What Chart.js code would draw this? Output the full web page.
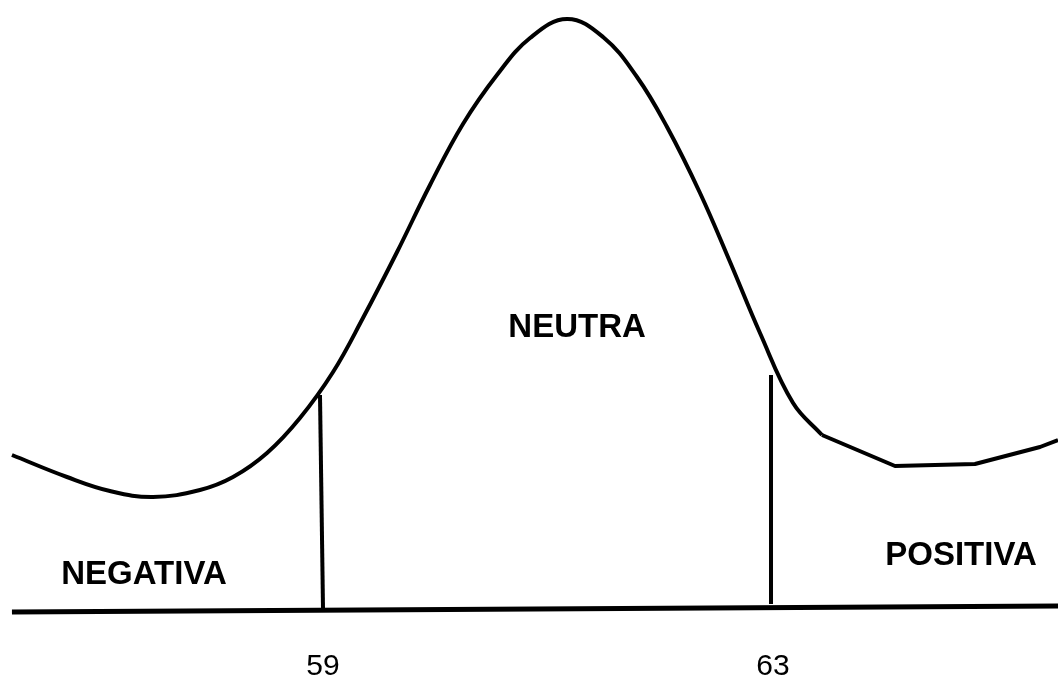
<!DOCTYPE html>
<html>
<head>
<meta charset="utf-8">
<script src="https://cdn.jsdelivr.net/npm/chart.js@4.4.1/dist/chart.umd.min.js"></script>
<style>
  html, body { margin: 0; padding: 0; background: #fff; }
  #wrap { width: 1058px; height: 679px; position: relative; }
</style>
</head>
<body>
<div id="wrap"><canvas id="chartCurva"></canvas></div>
<script>
// Curva de distribuição (esquemática) com as faixas negativa / neutra / positiva

// curva suave (parte principal)
const curvaX = [56.253, 56.742, 57.124, 57.507, 57.924, 58.218, 58.520, 58.813, 59.107, 59.373,
  59.676, 59.969, 60.262, 60.564, 60.858, 61.187, 61.507, 61.809, 62.076, 62.369,
  62.636, 62.902, 63.196, 63.453];
const curvaY = [157, 135, 121, 115, 122, 135, 159, 194, 240, 294,
  360, 427, 488, 537, 574, 593, 575, 535, 485, 419,
  350, 279, 209, 177];

// cauda direita (trechos retos)
const caudaX = [63.453, 64.102, 64.813, 65.391, 65.551];
const caudaY = [177, 146, 148, 165, 172];

// linha de base
const baseX = [56.253, 65.551];
const baseY = [0, 6];

// cortes
const corteValores = [59, 63];
const corte59X = [58.991, 59.018];
const corte59Y = [217, 2];
const corte63X = [63.0, 63.0];
const corte63Y = [237, 8];

// rótulos das faixas
const faixas = ["NEGATIVA", "NEUTRA", "POSITIVA"];
const faixasX = [57.427, 61.276, 64.689];
const faixasY = [28, 275, 47];

const X_MIN = 56.1467;
const X_MAX = 65.551;
const FONT = "Arial, 'Liberation Sans', sans-serif";

function pts(xs, ys) {
  return xs.map((x, i) => ({ x, y: ys[i] }));
}

const FaixasPlugin = {
  id: "faixasText",
  afterDatasetsDraw(chart) {
    const ctx = chart.ctx;
    const sx = chart.scales.x;
    const sy = chart.scales.y;
    ctx.save();
    ctx.fillStyle = "#000";
    ctx.font = "bold 33px " + FONT;
    ctx.textAlign = "center";
    ctx.textBaseline = "alphabetic";
    faixas.forEach((t, i) => {
      ctx.fillText(t, sx.getPixelForValue(faixasX[i]), sy.getPixelForValue(faixasY[i]));
    });
    ctx.restore();
  },
};

const linha = (data, extra = {}) => ({
  data,
  borderColor: "#000",
  borderWidth: 4,
  pointRadius: 0,
  tension: 0,
  fill: false,
  ...extra,
});

new Chart(document.getElementById("chartCurva"), {
  type: "line",
  data: {
    datasets: [
      linha(pts(curvaX, curvaY), { tension: 0.4 }),
      linha(pts(caudaX, caudaY), { borderJoinStyle: "round" }),
      linha(pts(baseX, baseY), { borderWidth: 5 }),
      linha(pts(corte59X, corte59Y)),
      linha(pts(corte63X, corte63Y)),
    ],
  },
  options: {
    responsive: true,
    maintainAspectRatio: false,
    animation: false,
    layout: { padding: 0 },
    plugins: { legend: { display: false }, tooltip: { enabled: false } },
    scales: {
      x: {
        type: "linear",
        min: X_MIN,
        max: X_MAX,
        grid: { display: false, drawTicks: false },
        border: { display: false },
        afterBuildTicks(axis) {
          axis.ticks = corteValores.map((v) => ({ value: v }));
        },
        afterFit(axis) {
          axis.height = 39;
        },
        ticks: {
          autoSkip: false,
          maxRotation: 0,
          padding: 12,
          labelOffset: 2,
          color: "#000",
          font: { family: FONT, size: 30, lineHeight: 1 },
          callback: (v) => String(v),
        },
      },
      y: {
        display: false,
        min: -28,
        max: 612,
      },
    },
  },
  plugins: [FaixasPlugin],
});
</script>
</body>
</html>
